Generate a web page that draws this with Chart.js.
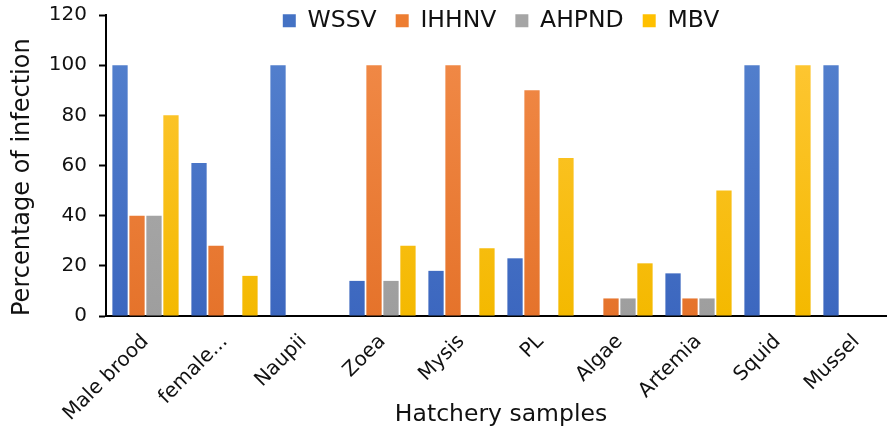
<!DOCTYPE html>
<html>
<head>
<meta charset="utf-8">
<script src="https://cdn.jsdelivr.net/npm/chart.js@4.4.1/dist/chart.umd.min.js"></script>
<style>
  html, body { margin: 0; padding: 0; background: #fff; overflow: hidden; }
  #wrap { width: 900px; height: 436px; position: relative; }
</style>
</head>
<body>
<div id="wrap"><canvas id="chart"></canvas></div>
<script>
// Hatchery samples (x categories)
const samples = ['Male brood', 'female...', 'Naupii', 'Zoea', 'Mysis', 'PL', 'Algae', 'Artemia', 'Squid', 'Mussel'];

// Percentage of infection per pathogen
const wssv  = [100, 61, 100, 14, 18, 23, 0, 17, 100, 100];
const ihhnv = [40, 28, 0, 100, 100, 90, 7, 7, 0, 0];
const ahpnd = [40, 0, 0, 14, 0, 0, 7, 7, 0, 0];
const mbv   = [80, 16, 0, 28, 27, 63, 21, 50, 100, 0];

const yTicks = [0, 20, 40, 60, 80, 100, 120];

const FONT = "'DejaVu Sans', Verdana, sans-serif";
const INK = '#111';

// Excel-ish shaded fill: a bit lighter at the top of the plot
function shade(base, top, bottom) {
    return (ctx) => {
        const area = ctx.chart.chartArea;
        if (!area) return base;
        const g = ctx.chart.ctx.createLinearGradient(0, area.top, 0, area.bottom);
        g.addColorStop(0, top);
        g.addColorStop(1, bottom);
        return g;
    };
}

function makeSet(label, data, base, top, bottom) {
    return {
        label: label,
        data: data,
        backgroundColor: shade(base, top, bottom),
        borderWidth: 0,
        categoryPercentage: 0.86,
        barPercentage: 0.9
    };
}

// legend sits over the top of the plot (like the Excel original), so
// don't let its box clip the labels
const legendOverlap = {
    id: 'legendOverlap',
    beforeDraw(chart) {
        const lg = chart.legend;
        if (lg) {
            lg.bottom = lg.top + 60;
            lg.height = 60;
        }
    }
};

new Chart(document.getElementById('chart'), {
    type: 'bar',
    data: {
        labels: samples,
        datasets: [
            makeSet('WSSV', wssv, '#4472C4', '#5683CF', '#3C67BF'),
            makeSet('IHHNV', ihhnv, '#ED7D31', '#F28C4A', '#E5732B'),
            makeSet('AHPND', ahpnd, '#A5A5A5', '#B0B0B0', '#9E9E9E'),
            makeSet('MBV', mbv, '#FFC000', '#FFC83A', '#F4B900')
        ]
    },
    plugins: [legendOverlap],
    options: {
        responsive: true,
        maintainAspectRatio: false,
        animation: false,
        layout: { padding: { top: -10, left: 0, right: 4, bottom: 0 } },
        plugins: {
            tooltip: { enabled: false },
            legend: {
                position: 'top',
                fullSize: false,
                maxHeight: 25,
                labels: {
                    boxWidth: 13,
                    boxHeight: 13,
                    padding: 19,
                    color: INK,
                    font: { family: FONT, size: 23.5 },
                    generateLabels: (chart) => {
                        const cols = ['#4472C4', '#ED7D31', '#A5A5A5', '#FFC000'];
                        return chart.data.datasets.map((ds, i) => ({
                            text: ds.label,
                            fillStyle: cols[i],
                            strokeStyle: cols[i],
                            lineWidth: 0,
                            fontColor: INK,
                            hidden: false,
                            datasetIndex: i
                        }));
                    }
                }
            }
        },
        scales: {
            x: {
                grid: { display: false },
                border: { display: true, color: '#000', width: 2 },
                ticks: {
                    autoSkip: false,
                    minRotation: 45,
                    maxRotation: 45,
                    padding: 6,
                    color: INK,
                    font: { family: FONT, size: 20 }
                },
                title: {
                    display: true,
                    text: 'Hatchery samples',
                    color: INK,
                    font: { family: FONT, size: 23.5 },
                    padding: { top: 0, bottom: 7 }
                },
                afterFit: (scale) => { scale.height = 120; }
            },
            y: {
                min: 0,
                max: 120,
                afterBuildTicks: (scale) => { scale.ticks = yTicks.map(v => ({ value: v })); },
                grid: {
                    display: true,
                    drawOnChartArea: false,
                    drawTicks: true,
                    tickLength: 7,
                    tickColor: '#000',
                    tickWidth: 2
                },
                border: { display: true, color: '#000', width: 2 },
                ticks: {
                    padding: 12,
                    color: INK,
                    font: { family: FONT, size: 20 }
                },
                title: {
                    display: true,
                    text: 'Percentage of infection',
                    align: 'start',
                    color: INK,
                    font: { family: FONT, size: 24 },
                    padding: { top: 8, bottom: 0 }
                },
                afterFit: (scale) => {
                    scale.width = 106;
                    scale.paddingTop = 0;
                    scale.paddingBottom = 0;
                }
            }
        }
    }
});
</script>
</body>
</html>
